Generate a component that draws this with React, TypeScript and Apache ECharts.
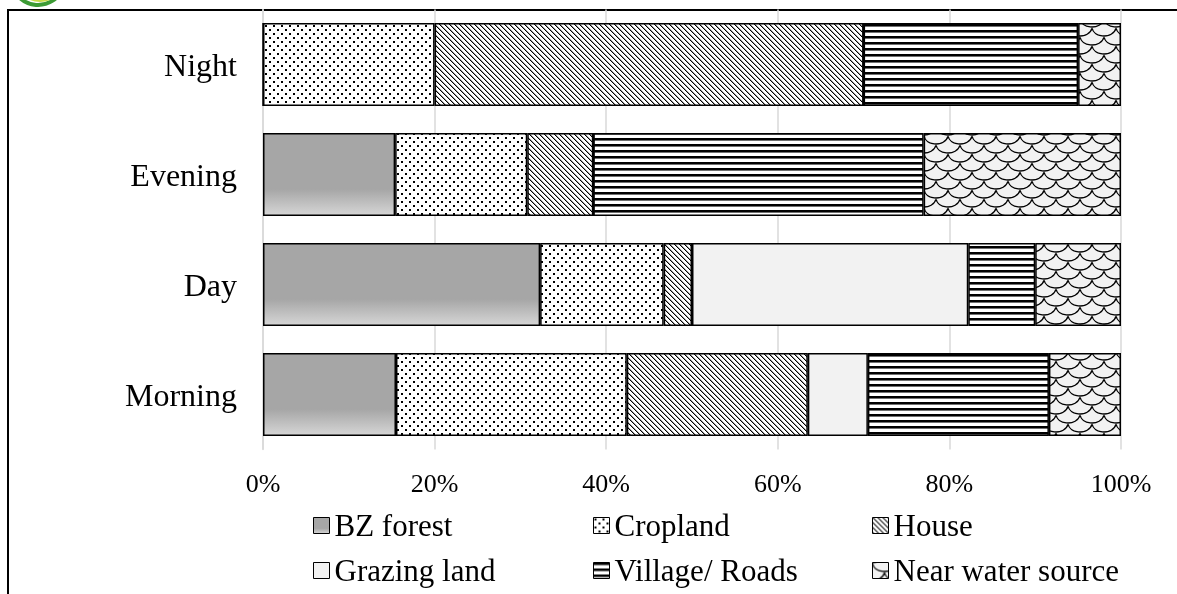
import React, { useEffect, useRef } from "react";
import * as echarts from "echarts";

const categories = ["Morning", "Day", "Evening", "Night"];
const seriesNames = ["BZ forest", "Cropland", "House", "Grazing land", "Village/ Roads", "Near water source"];
const bzForest = [15.5, 32.3, 15.4, 0];
const cropland = [26.9, 14.4, 15.4, 20];
const house = [21.1, 3.3, 7.7, 50];
const grazingLand = [7.0, 32.2, 0, 0];
const villageRoads = [21.1, 7.8, 38.5, 25];
const nearWater = [8.4, 10.0, 23.0, 5];
const xTicks = [0, 20, 40, 60, 80, 100];

const FONT = "'Times New Roman', 'Liberation Serif', serif";

function makePattern(w: number, h: number, draw: (ctx: CanvasRenderingContext2D) => void): any {
  const c = document.createElement("canvas");
  c.width = w;
  c.height = h;
  const ctx = c.getContext("2d")!;
  draw(ctx);
  return { image: c, repeat: "repeat", imageWidth: w, imageHeight: h };
}

function buildFills() {
  const bz = {
    type: "linear", x: 0, y: 0, x2: 0, y2: 1,
    colorStops: [
      { offset: 0, color: "#a6a6a6" },
      { offset: 0.68, color: "#a6a6a6" },
      { offset: 1, color: "#d6d6d6" },
    ],
  };
  const dots = makePattern(8, 8, (ctx) => {
    ctx.fillStyle = "#ffffff";
    ctx.fillRect(0, 0, 8, 8);
    ctx.fillStyle = "#000000";
    ctx.fillRect(1, 1, 2, 2);
    ctx.fillRect(5, 5, 2, 2);
  });
  const diag = makePattern(5, 5, (ctx) => {
    ctx.fillStyle = "#ffffff";
    ctx.fillRect(0, 0, 5, 5);
    for (let y = 0; y < 5; y++) {
      for (let x = 0; x < 5; x++) {
        const d = (x - y + 10) % 5;
        if (d === 0) { ctx.fillStyle = "#000000"; ctx.fillRect(x, y, 1, 1); }
        else if (d === 1) { ctx.fillStyle = "#9a9a9a"; ctx.fillRect(x, y, 1, 1); }
      }
    }
  });
  const grazing = "#f2f2f2";
  const horiz = makePattern(4, 6, (ctx) => {
    ctx.fillStyle = "#ffffff";
    ctx.fillRect(0, 0, 4, 6);
    ctx.fillStyle = "#000000";
    ctx.fillRect(0, 0, 4, 2);
    ctx.fillStyle = "#707070";
    ctx.fillRect(0, 2, 4, 1);
  });
  const scales = makePattern(24, 18, (ctx) => {
    ctx.fillStyle = "#f2f2f2";
    ctx.fillRect(0, 0, 24, 18);
    ctx.strokeStyle = "#000000";
    ctx.lineWidth = 1.3;
    const arc = (cx: number, cy: number) => {
      ctx.beginPath();
      ctx.ellipse(cx, cy, 12, 9, 0, 0.15, Math.PI - 0.15);
      ctx.stroke();
    };
    arc(12, 0);
    arc(12, 18);
    arc(0, 9);
    arc(24, 9);
    arc(0, -9);
    arc(24, -9);
  });
  return [bz, dots, diag, grazing, horiz, scales];
}

export default function App() {
  const ref = useRef<HTMLDivElement>(null);
  useEffect(() => {
    if (!ref.current) return;
    const chart = echarts.init(ref.current, null, { renderer: "svg" });
    const fills = buildFills();
    const values = [bzForest, cropland, house, grazingLand, villageRoads, nearWater];
    const series = seriesNames.map((name, i) => ({
      name,
      type: "bar",
      stack: "total",
      barWidth: 83,
      data: values[i],
      itemStyle: { color: fills[i], borderColor: "#000", borderWidth: 1.5 },
      emphasis: { disabled: true },
    }));
    const colX = [313, 593, 872];
    const rowY = [510, 555];
    const legends = seriesNames.map((name, i) => ({
      data: [name],
      left: colX[i % 3],
      top: rowY[Math.floor(i / 3)],
      padding: 0,
      icon: "rect",
      itemWidth: 16,
      itemHeight: 16,
      itemStyle: { borderColor: "#000", borderWidth: 1 },
      textStyle: { fontSize: 31, color: "#000", fontFamily: FONT },
      selectedMode: false,
    }));
    chart.setOption({
      animation: false,
      grid: { left: 263, right: 56, top: 9.5, height: 440, containLabel: false },
      xAxis: {
        type: "value",
        min: xTicks[0],
        max: xTicks[xTicks.length - 1],
        interval: 20,
        axisLine: { show: false },
        axisTick: { show: false },
        splitLine: { lineStyle: { color: "#d9d9d9", width: 1.5 } },
        axisLabel: { formatter: "{value}%", fontSize: 26, color: "#000", fontFamily: FONT, margin: 21 },
      },
      yAxis: {
        type: "category",
        data: categories,
        axisLine: { show: true, lineStyle: { color: "#d9d9d9", width: 1.5 } },
        axisTick: { show: false },
        axisLabel: { fontSize: 32, color: "#000", fontFamily: FONT, margin: 26 },
      },
      legend: legends,
      series,
      graphic: [
        {
          type: "rect",
          shape: { x: 8, y: 10, width: 1400, height: 800 },
          style: { fill: "none", stroke: "#000", lineWidth: 2 },
          silent: true,
        },
        {
          type: "arc",
          shape: { cx: 38, cy: -22, r: 27, startAngle: 0.35, endAngle: Math.PI - 0.2 },
          style: { stroke: "#3d9b35", lineWidth: 4, fill: "none" },
          silent: true,
        },
        {
          type: "arc",
          shape: { cx: 40, cy: -24, r: 25, startAngle: 0.5, endAngle: Math.PI - 0.5 },
          style: { stroke: "#c8d94a", lineWidth: 2, fill: "none" },
          silent: true,
        },
      ],
    });
    return () => chart.dispose();
  }, []);
  return <div ref={ref} style={{ position: "fixed", left: 0, top: 0, width: 1177, height: 594 }} />;
}
